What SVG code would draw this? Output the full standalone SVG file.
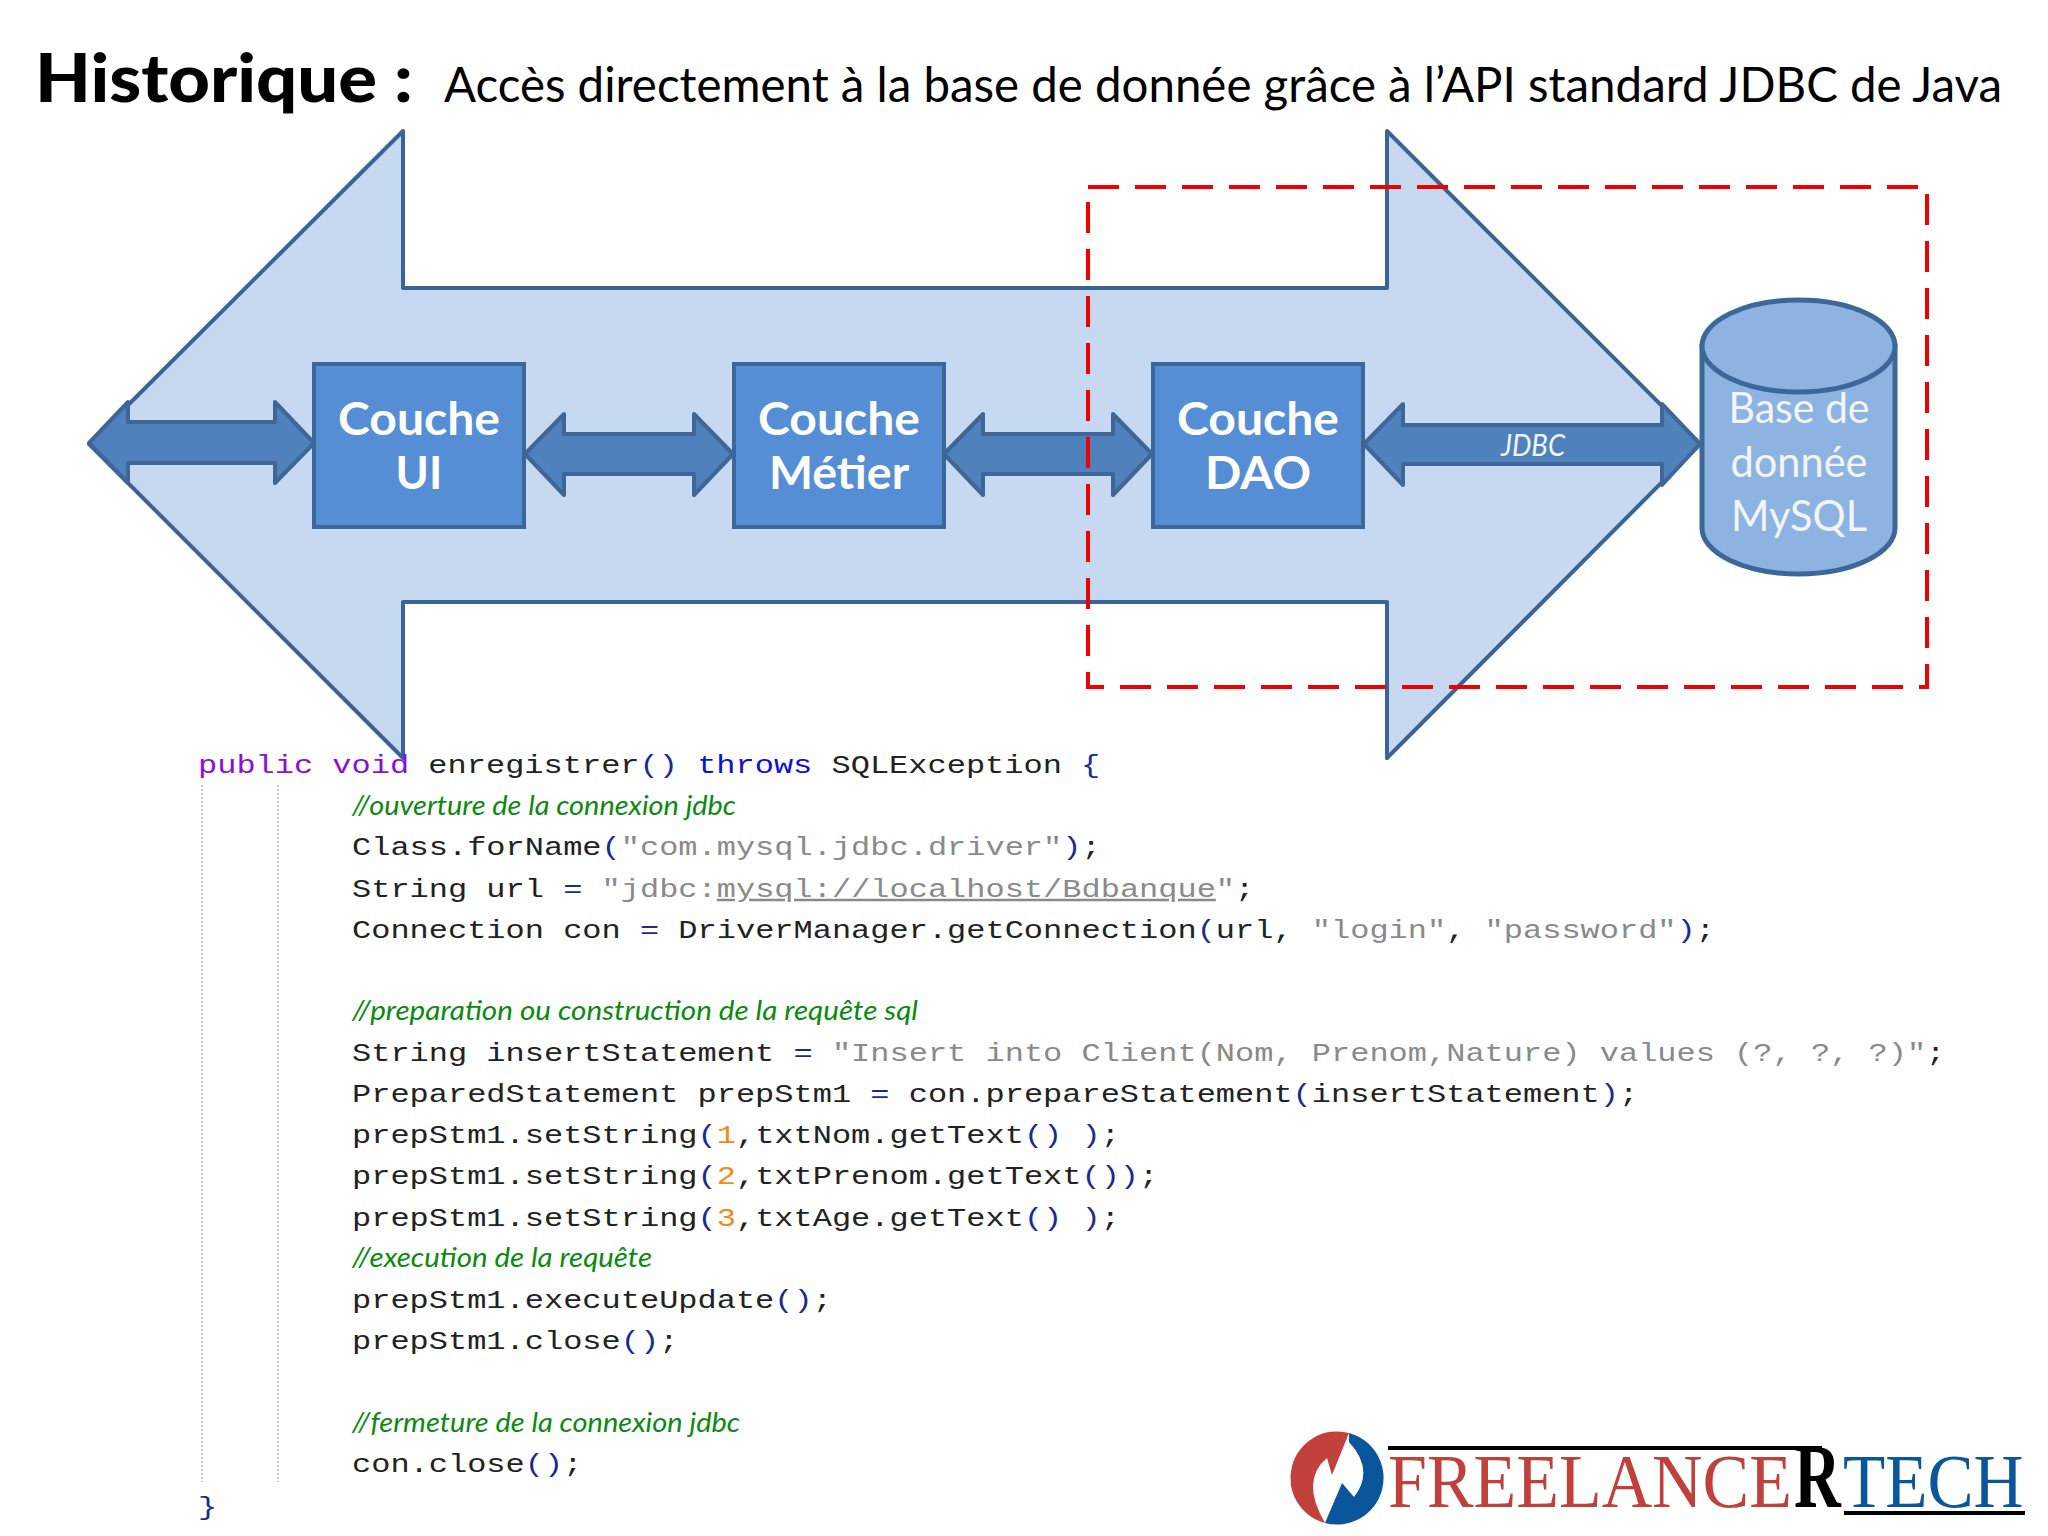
<svg xmlns="http://www.w3.org/2000/svg" width="2048" height="1536" viewBox="0 0 2048 1536">
<style>
.big{fill:#c6d9f0;stroke:#3c6492;stroke-width:4;stroke-linejoin:round}
.link{fill:#4f81bd;stroke:#3e6696;stroke-width:4;stroke-linejoin:round}
.box{fill:#558ed5;stroke:#3c6899;stroke-width:4}
.bt{font-family:"Lato","Liberation Sans",sans-serif;font-weight:700;font-size:45px;fill:#fff;text-anchor:middle}
.cyl{fill:#8db3e2;stroke:#3c6899;stroke-width:5}
.ct{font-family:"Lato","Liberation Sans",sans-serif;font-size:43px;fill:#f2f6fc;text-anchor:middle}
.code{font-family:"Liberation Mono",monospace;font-size:25px;fill:#222}
.s{fill:#8a8a8a}.p{fill:#1a2a90}.n{fill:#f08a20}.kw{fill:#8a10d8}.th{fill:#1010d0}
.cm{font-family:"Lato","Open Sans",sans-serif;font-style:italic;font-size:27px;fill:#0b8a12}
.guide{stroke:#b8b8b8;stroke-width:1.5;stroke-dasharray:2 2;fill:none}
.logo{font-family:"Liberation Serif",serif}
</style>
<rect width="2048" height="1536" fill="#fff"/>
<g id="title">
<text x="35" y="102" textLength="378" lengthAdjust="spacingAndGlyphs" style="font-family:'Lato','Liberation Sans',sans-serif;font-weight:900;font-size:66px;fill:#000">Historique :</text>
<text x="444" y="102" textLength="1558" lengthAdjust="spacingAndGlyphs" style="font-family:'Lato','Liberation Sans',sans-serif;font-size:48px;fill:#000">Accès directement à la base de donnée grâce à l’API standard JDBC de Java</text>
</g>
<g id="big-arrow">
<path class="big" d="M89 444L403 131V288H1387V131L1700 444L1387 758V602H403V758Z"/>
</g>
<g id="couche-ui">
<rect class="box" x="314" y="364" width="210" height="163"/>
<text class="bt" x="419" y="435" textLength="162" lengthAdjust="spacingAndGlyphs">Couche</text>
<text class="bt" x="419" y="489">UI</text>
</g>
<g id="couche-metier">
<rect class="box" x="734" y="364" width="210" height="163"/>
<text class="bt" x="839" y="435" textLength="162" lengthAdjust="spacingAndGlyphs">Couche</text>
<text class="bt" x="839" y="489" textLength="140" lengthAdjust="spacingAndGlyphs">Métier</text>
</g>
<g id="couche-dao">
<rect class="box" x="1153" y="364" width="210" height="163"/>
<text class="bt" x="1258" y="435" textLength="162" lengthAdjust="spacingAndGlyphs">Couche</text>
<text class="bt" x="1258" y="489" textLength="106" lengthAdjust="spacingAndGlyphs">DAO</text>
</g>
<g id="mysql">
<path class="cyl" d="M1702 346V528A96.500 46 0 0 0 1895 528V346Z"/>
<ellipse class="cyl" cx="1798.500" cy="346" rx="96.500" ry="46"/>
<text class="ct" x="1799" y="423" textLength="141" lengthAdjust="spacingAndGlyphs">Base de</text>
<text class="ct" x="1799" y="477" textLength="137" lengthAdjust="spacingAndGlyphs">donnée</text>
<text class="ct" x="1799" y="531" textLength="136" lengthAdjust="spacingAndGlyphs">MySQL</text>
</g>
<g id="connectors">
<path class="link" d="M89 443L128 402V422H275V402L314 443L275 483V463H128V483Z"/>
<path class="link" d="M525 454L564 414V434H694V414L733 454L694 495V474H564V495Z"/>
<path class="link" d="M944 454L983 414V434H1113V414L1152 454L1113 495V474H983V495Z"/>
<path class="link" d="M1364 444L1403 404V425H1662V404L1700 444L1662 485V464H1403V485Z"/>
<text x="1501" y="456" textLength="64" lengthAdjust="spacingAndGlyphs" style="font-family:'Lato','Liberation Sans',sans-serif;font-style:italic;font-size:31px;fill:#f2f6fc">JDBC</text>
</g>
<g id="scope">
<rect x="1088" y="187" width="839" height="500" fill="none" stroke="#f00000" stroke-width="4" stroke-dasharray="31 16"/>
</g>
<g id="code">
<path class="guide" d="M202 785V1482M278 785V1482"/>
<text class="code" transform="translate(198 773) scale(1.28 1)"><tspan class="kw">public void</tspan> enregistrer<tspan class="p">()</tspan> <tspan class="th">throws</tspan> SQLException <tspan class="p">{</tspan></text>
<text class="cm" x="352" y="815" textLength="384" lengthAdjust="spacingAndGlyphs">//ouverture de la connexion jdbc</text>
<text class="code" transform="translate(352 855) scale(1.28 1)">Class.forName<tspan class="p">(</tspan><tspan class="s">"com.mysql.jdbc.driver"</tspan><tspan class="p">)</tspan>;</text>
<text class="code" transform="translate(352 897) scale(1.28 1)">String url <tspan class="p">=</tspan> <tspan class="s">"jdbc:<tspan text-decoration="underline">mysql://localhost/Bdbanque</tspan>"</tspan>;</text>
<text class="code" transform="translate(352 938) scale(1.28 1)">Connection con <tspan class="p">=</tspan> DriverManager.getConnection<tspan class="p">(</tspan>url, <tspan class="s">"login"</tspan>, <tspan class="s">"password"</tspan><tspan class="p">)</tspan>;</text>
<text class="cm" x="352" y="1020" textLength="566" lengthAdjust="spacingAndGlyphs">//preparation  ou construction de la requête sql</text>
<text class="code" transform="translate(352 1061) scale(1.28 1)">String insertStatement <tspan class="p">=</tspan> <tspan class="s">"Insert into Client(Nom, Prenom,Nature) values (?, ?, ?)"</tspan>;</text>
<text class="code" transform="translate(352 1102) scale(1.28 1)">PreparedStatement prepStm1 <tspan class="p">=</tspan> con.prepareStatement<tspan class="p">(</tspan>insertStatement<tspan class="p">)</tspan>;</text>
<text class="code" transform="translate(352 1143) scale(1.28 1)">prepStm1.setString<tspan class="p">(</tspan><tspan class="n">1</tspan>,txtNom.getText<tspan class="p">()</tspan> <tspan class="p">)</tspan>;</text>
<text class="code" transform="translate(352 1184) scale(1.28 1)">prepStm1.setString<tspan class="p">(</tspan><tspan class="n">2</tspan>,txtPrenom.getText<tspan class="p">())</tspan>;</text>
<text class="code" transform="translate(352 1226) scale(1.28 1)">prepStm1.setString<tspan class="p">(</tspan><tspan class="n">3</tspan>,txtAge.getText<tspan class="p">()</tspan> <tspan class="p">)</tspan>;</text>
<text class="cm" x="352" y="1267" textLength="300" lengthAdjust="spacingAndGlyphs">//execution de la requête</text>
<text class="code" transform="translate(352 1308) scale(1.28 1)">prepStm1.executeUpdate<tspan class="p">()</tspan>;</text>
<text class="code" transform="translate(352 1349) scale(1.28 1)">prepStm1.close<tspan class="p">()</tspan>;</text>
<text class="cm" x="352" y="1432" textLength="388" lengthAdjust="spacingAndGlyphs">//fermeture de la connexion jdbc</text>
<text class="code" transform="translate(352 1472) scale(1.28 1)">con.close<tspan class="p">()</tspan>;</text>
<text class="code" transform="translate(198 1515) scale(1.28 1)"><tspan class="p">}</tspan></text>
</g>
<g id="logo">
<path fill="#c2413c" d="M1349 1433A46 46 0 0 0 1325 1523Q1300 1480 1327 1458L1332 1475Z"/>
<path fill="#0a559c" d="M1349 1433A46 46 0 0 1 1325 1523L1342 1483L1354 1497Q1375 1470 1349 1442Z"/>
<rect x="1388" y="1446" width="434" height="4" fill="#000"/>
<rect x="1844" y="1511" width="181" height="4" fill="#000"/>
<text class="logo" transform="translate(1388 1507) scale(.92 1)" font-size="76" fill="#c0413c">FREELANCE</text>
<text class="logo" transform="translate(1843 1507) scale(.91 1)" font-size="76" fill="#0a559c">TECH</text>
<text class="logo" transform="translate(1794 1507) scale(.72 1)" font-size="90" font-weight="700" fill="#000">R</text>
</g>
</svg>
